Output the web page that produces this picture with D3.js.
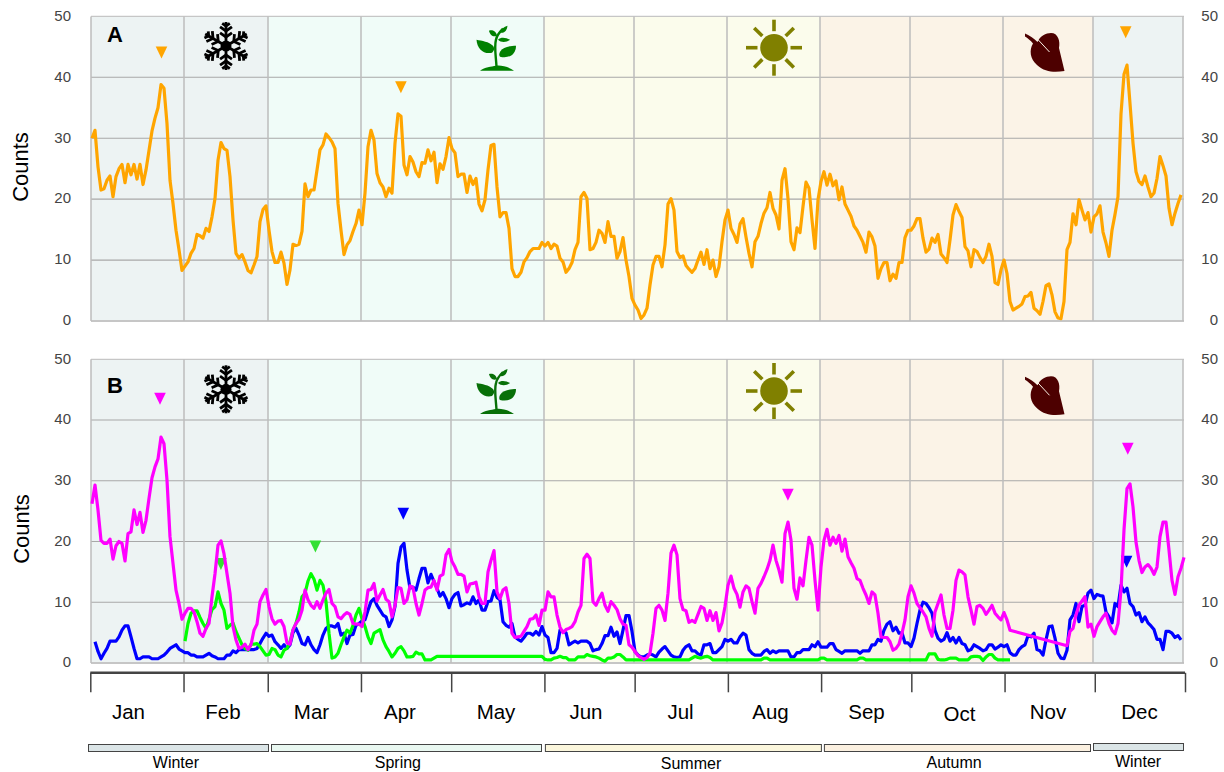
<!DOCTYPE html>
<html><head><meta charset="utf-8">
<script src="https://cdn.jsdelivr.net/npm/d3@7/dist/d3.min.js"></script>
<style>html,body{margin:0;padding:0;background:#fff}svg{display:block}text{font-family:"Liberation Sans",Arial,sans-serif}</style>
</head><body><svg id="c" width="1224" height="772"></svg>
<script>
const months=["Jan","Feb","Mar","Apr","May","Jun","Jul","Aug","Sep","Oct","Nov","Dec"];
const monthStarts=[0,31,59,90,120,151,181,212,243,273,304,334,364];
const monthLabelDays=[12.5,44,73.5,103,135,165,196.5,226.5,258.5,289.5,319,349.5];
const monthLabelDy=[0,0,0,0,0,0,0,0,0,2,0,0];
const yTicks=[0,10,20,30,40,50];
const seasonNames=["Winter","Spring","Summer","Autumn","Winter"];
const seasonStarts=[0,59,151,243,334];
const seasonEnds=[59,151,243,334,364];
const seasonColors=["#edf3f3","#f0fcf8","#fbfcec","#fbf3e7","#edf3f3"];
const seasonBarColors=["#dbe5e7","#e9f8f1","#fbf6dc","#fbf0e0","#dbe5e7"];
const seasonBarStart=[-1,60,151.3,244.3,334];
const seasonBarEnd=[59,150,243.3,333,364];
const seasonLabelDays=[28.3,102.3,200,287.7,349];
const seasonLabelDy=[0,0,1,0,-1];

const seriesA=[30,31.3,25.3,21.5,21.7,23.1,23.8,20.4,23.7,25,25.7,22.7,25.7,24,25.7,23.3,25.7,22.4,24.8,28,31.2,33.3,35,38.8,38.2,32.4,23.1,19.3,14.9,11.7,8.3,9,9.7,11.1,11.9,14.2,14,13.6,15.2,14.7,17.1,20.1,26.4,29.3,28.3,28,23.7,16.6,11.1,10.3,10.9,9.7,8.3,7.9,9.2,10.6,16.3,18.3,18.9,14.9,11.4,9.6,9.6,11.3,9.5,6,8.4,12.6,12.4,12.6,14.7,22.5,20.4,21.5,21.5,24.8,28.1,28.9,30.7,30.1,29.4,28.3,19.3,14.9,10.9,12.5,13.2,14.7,16,18.2,15.8,21,28.6,31.3,29.7,24.2,22.7,22,20.4,21.8,21,29.2,34,33.6,25.6,24,27,26.1,24.5,23.7,
26,25.9,28.1,26.3,27.7,22.7,25.8,24.9,27,30.1,28.3,27.6,23.7,24.1,24.1,21.1,23.8,22.4,23.4,19.2,18.1,19.9,24.8,28.8,29,22,17.1,17.8,17.8,15.2,8.6,7.3,7.3,8,9.7,10.4,11.4,11.9,11.9,11.9,12.9,12.3,12.9,11.9,12.6,12.3,10.3,9.7,8,8.6,9.6,11.7,12.9,20.4,21.1,20.1,11.7,11.9,12.9,14.9,14.4,12.9,16.3,13.9,13.9,10.3,11.4,13.7,10,7.3,3.7,2.6,1.8,0.4,1,2.1,5.9,9.2,10.6,10.6,8.9,12.5,19.2,20.1,18.2,11.4,10.4,10.7,9.1,8.5,8,8.6,10,11.3,9.3,11.7,8.6,10,7.3,8.9,13,16.6,18.2,15.2,14.2,12.9,15.9,16.8,13.8,11.1,8.9,13,13.9,16,17.7,18.6,21.1,18.5,17.4,15.1,23.1,25,20.1,13,11.7,15.3,14.5,18.8,22.8,21.8,16.6,11.9,19.9,22.9,24.5,22.3,
24.1,22.2,23,19.9,22,19.2,18.2,17.2,15.6,14.9,13.9,12.9,11.3,14.6,13.8,12.3,7,8.6,9.6,9.6,6.6,7.7,7,9.6,9.6,13.7,14.9,14.9,15.6,16.8,16.8,13.6,11.3,11.8,13.6,12.9,14.2,11,10.4,9.6,13.3,17.4,19.1,18,17,12.2,11.5,8.9,11.7,11.4,10.4,9.6,10.6,12.6,10.6,6.3,6,8.4,10,7.8,3.2,1.8,2.1,2.4,2.8,4,4.1,4.7,2.1,1.7,1.1,3.2,5.8,6.1,4.3,1.5,0.5,0.4,3.2,11.7,12.9,17.6,15.8,19.9,18.2,16.6,17.8,14.6,17.1,17.6,18.9,14.6,12.8,10.6,14.9,17.5,20.4,34,40.5,42,35.7,29.2,24.5,22.9,22.4,23.8,22,20.4,21,23.4,27,25.5,23.8,18.5,15.8,17.7,19.3,20.7];

const seriesMagenta=[26.2,29.3,25.2,20.2,19.7,19.7,20.4,17.1,19.3,20,19.7,16.8,21.3,21.6,25.2,22.8,24.8,21.5,23.5,27.1,30.5,32.3,33.6,37.2,36.1,30.1,20.8,16.4,12,9.8,7.2,8.2,9,9,8.4,6.8,4.9,4.4,5.7,6.5,10.9,14.7,19.4,20.1,18,14.7,11.5,6,3.8,2.4,2.6,3.1,2.2,3,5.4,6.4,10.1,11.2,12.1,9.3,7.3,6.4,6.9,7,6,3.3,3.1,5.5,6.5,7.2,8.7,12,10.4,9.5,9,10.1,9,10.4,11.5,12.1,9.8,9.3,7.6,7.3,7.9,8.3,8,6.5,6.4,6.4,6,8.4,12,12.1,13.1,10.2,11.2,12.1,10.5,10.1,7.6,9.5,12.4,12.3,9.8,10.4,12.7,12.4,9.8,7.9,
9.8,12,12.4,12.5,13.6,12,14.3,14.6,17.8,18.7,16.7,15.8,14.6,14.6,14.3,11.7,13,13.1,13.3,10.9,9.8,9.8,15,16.9,18.5,11.7,10.6,12,12.4,9.8,4.9,4.2,4.3,4.4,5.2,6,7.2,7.3,7.9,6.2,8.7,8.7,11.7,10.9,10.9,7.9,5.9,5,5.5,5.7,6,6.8,8.4,9.5,17.2,17.9,17.2,10.1,9.5,10.6,11.5,9.5,8.5,10.1,9.5,8.8,7.3,6.4,6.2,3,2.6,1.9,1.2,0.9,0.6,0.9,1.6,4.9,9,9.5,8.7,7,11.5,18.1,19.4,17.8,10.6,8.8,8.6,6.7,7,6.7,8,9.3,9,7,8.6,7,8.3,5.3,6.6,9.3,12.8,14.3,12.3,11.3,9.2,11.7,12.7,12.3,10.1,8.2,12.3,13.1,14.2,15.4,16.9,19.4,16.9,15.3,13.3,21.3,23.2,20.2,12.3,10.5,14,12.7,16.9,20.7,19.4,13.6,8.7,15.8,20.2,22,
19.4,20.7,19.7,21,18.4,20.4,17.5,16.5,15.6,13.9,13.6,12.3,11.2,9.8,11.7,11.2,8.2,4.3,4.2,4.2,3.5,2.1,2.4,3.1,4.9,7.1,10.9,12.7,11.5,9.8,9.1,8.4,7.6,5.7,4.4,8.4,9.8,11.2,7.9,5.7,5.7,8.7,13.6,15.3,15,14.5,10.9,8.7,6.4,9.3,9.5,9,8,8.7,9.5,8.2,7.6,7.1,8.3,7.1,5.4,
null,null,null,null,null,null,null,null,null,null,null,null,null,null,null,null,null,null,
2.85,5.2,5.7,7.9,9.5,10.2,10.9,5.9,6.4,4.4,6,6.8,7.6,8.2,6.5,5.4,4.8,6.5,12,21.9,28.7,29.5,25.7,19.9,16.9,14.9,15.8,16.2,15.6,14.6,15.8,20.8,23.2,23.2,18.6,13.6,11.3,14.2,15.6,17.4];

const seriesBlue=[null,3.5,1.9,0.7,1.6,2.4,3.6,3.6,3.6,4.3,5.4,6.1,6.1,4.3,2.4,0.7,0.7,1,1,1,0.7,0.7,0.7,1,1.3,1.8,2.4,2.7,3,2.3,2,1.7,1.7,1.3,1.3,1,1,1,1.3,1.6,1.2,1,0.7,0.7,0.7,1.3,1.3,2,1.7,2.2,2.2,2.2,2.2,2.2,2.2,2.4,3.2,4.1,4.9,4.4,4.6,3.5,3,2.4,3,2.4,3,5,5.7,4.6,3.2,3,4.2,3,2.2,1.7,3,4.6,5.7,6.1,6.1,5.9,6.5,4.6,4.9,3.2,4.6,4.7,6.2,6.5,6.9,7.1,8.7,10.1,10.6,9.5,8.7,7.9,7.6,6,7.1,9.3,16.4,19.1,19.7,15.3,12.3,12.5,12,13.9,
15.6,15.6,13.2,14.6,13.4,12.3,11,11.6,10.6,9.1,10.6,11.3,11.6,9.4,9.6,9.9,9.7,10.9,9.8,10.4,8.7,8.7,10.1,10.2,11.9,10.8,10.4,6.8,6.2,5.9,6.5,4.3,3.9,3.6,4.2,4.9,4.9,4.6,5.2,4.6,6,4.6,4.2,1.7,1.7,2.4,5.4,5.2,5,3,3.3,3.6,3.3,3.6,3.6,3.6,3.2,2,2.2,2.3,3.2,4.5,4.5,5.9,4.4,5.1,3.2,5.4,7.8,7.8,5.2,1.9,1.3,1,1,1.3,1.5,1.3,1,1.8,2.3,2.7,2,1.3,1,0.9,1,2.1,2.7,3,2,2,1.5,1.3,3,3,3.2,1.7,1.7,2.2,2.7,3.9,3.6,3.9,3.3,3.3,4.3,4.9,4.6,2.2,1.6,1.3,1.3,1.3,1.9,2.2,1.6,2,1.7,2,2,2,2,1,1,1.7,1.7,2.2,2.2,2.2,3,2.7,3.5,2.6,2.6,2.6,
3.2,3.2,2.2,1.9,1.6,2,2,2,2,2,1.6,2,2,2,3,3,3.9,3.6,5.4,6.4,6.8,5.3,5.9,4.9,5,3.3,3.3,2.7,4.1,6.5,8.7,10,9.8,9.1,8.2,5.4,4.1,3.6,3.9,5,3.6,4.2,3.3,4.2,3.2,3,2,2.2,3,2.7,2.4,2,2.2,3,3,2.3,2.6,3,2.7,3,1.7,1.3,1.3,2.2,2.7,3,4.5,4.3,4.9,2.2,2,1.3,3.8,6,6.1,4.1,1.6,0.8,0.7,2.1,7.1,7.9,9.8,6.8,9.3,9.5,11.5,12,10.6,11.3,11.1,11,8.4,7.6,6.6,9.8,9.3,12.8,11.7,12.3,9.8,9.3,7.9,8.3,6.8,7.6,6.6,6.1,5.5,3.9,3.9,2.2,5.2,5.2,4.9,4.2,4.5,3.8];

const seriesGreen=[null,null,null,null,null,null,null,null,null,null,null,null,null,null,null,null,null,null,null,null,null,null,null,null,null,null,null,null,null,null,null,
3.6,6.5,8.2,8.6,8.6,7.5,6.5,5.7,7.2,8.8,9.3,11.7,9.8,8.7,5.7,6.2,6.6,5.2,4.1,3,2.4,2.1,3.1,3.1,3.2,2.7,2,1.3,1.4,2.4,2.2,1.3,1,2.1,2.4,3.5,5.4,6.5,8.4,10.9,11.5,13.5,14.7,13.8,12,13.6,12.8,10.1,4.9,0.8,1,1.6,3,4.3,5.4,4.9,6.2,7.9,9,7.3,6,4.3,3.2,4.9,5.2,5.5,3.8,2.7,1.9,1,1.6,2.4,2.7,2,1,1,1.1,1.8,1.5,
1.5,0.5,0.5,0.5,0.8,1.1,1.1,1.1,1.1,1.1,1.1,1.1,1.1,1.1,1.1,1.1,1.1,1.1,1.1,1.1,1.1,1.1,1.1,1.1,1.1,1.1,1.1,1.1,1.1,1.1,1.1,1.1,1.1,1.1,1.1,1.1,1.1,1.1,1.1,1.1,1.1,0.6,0.5,0.5,0.8,0.9,1.1,0.9,0.9,0.5,0.5,0.5,1,1,1,1.4,1.2,1.1,1,0.8,0.5,0.3,0.8,0.8,1,1.4,1.4,1,0.5,
0.5,0.5,0.5,0.5,0.5,0.5,0.5,0.5,0.5,0.5,0.5,0.5,0.5,0.5,0.5,0.5,0.5,0.5,0.5,0.5,0.5,0.8,1.1,0.9,0.8,1,1.1,0.9,0.5,0.5,0.5,0.5,0.5,0.5,0.5,0.5,0.5,0.5,0.5,0.5,0.5,0.5,0.5,0.5,0.5,0.8,0.8,0.5,0.5,0.5,0.5,0.5,0.5,0.5,0.5,0.5,0.5,0.5,0.5,0.5,0.5,0.5,0.5,0.5,0.8,0.8,0.5,0.5,0.5,0.5,0.5,0.5,0.5,0.5,0.5,0.5,0.5,0.8,0.8,0.5,0.5,0.5,0.5,0.5,0.5,0.5,0.5,0.5,0.5,0.5,0.5,0.5,0.5,0.5,0.5,0.5,0.5,0.5,0.5,0.5,1.5,1.5,1.5,0.6,0.5,0.5,0.6,0.8,0.8,0.8,0.5,0.5,0.5,0.5,1,1.1,1.1,1,0.4,1,1.4,1.4,0.8,0.5,0.5,0.5,0.5,0.5];

const markerDaysA=[23.5,103.3,344.9];
const markerValuesA=[43.1,37.4,46.4];
const markerColorsA=["#ffa500","#ffa500","#ffa500"];
const markerDaysB=[43.3,74.8,104.1,345.2,23,232.3,345.6];
const markerValuesB=[15.3,18.2,23.6,15.7,42.5,26.7,34.3];
const markerColorsB=["#33e033","#33e033","#0000ff","#0000ff","#ff00ff","#ff00ff","#ff00ff"];

const svg=d3.select("#c");
const x=d3.scaleLinear().domain([0,364]).range([91,1183]);
const xAxisScale=d3.scaleLinear().domain([0,364]).range([90.3,1185]);
const dayOffset=1/3;

function icons(g,dy,bg){
  const sn=g.append("g").attr("transform",`translate(226,${46+dy})`).attr("stroke","#000").attr("fill","none");
  d3.range(6).forEach(k=>{
    const a=sn.append("g").attr("transform",`rotate(${k*60})`);
    a.append("line").attr("x1",0).attr("y1",0).attr("x2",0).attr("y2",-24).attr("stroke-width",2.8);
    [[-9,7],[-15,7],[-20,4.5]].forEach(([r,l])=>{
      a.append("path").attr("d",`M${-l*0.85},${r-l*0.6}L0,${r}L${l*0.85},${r-l*0.6}`).attr("stroke-width",2.8);
    });
  });
  sn.append("circle").attr("r",5.5).attr("fill","#000").attr("stroke","none");
  const pc=dy?"#087008":"#008000";
  const pl=g.append("g").attr("transform",`translate(497,${70.7+dy})`).attr("fill",pc);
  pl.append("path").attr("d","M-17,0C-12,-4 -6,-4 -1,-5C3,-6 12,-4 17,0Z");
  pl.append("path").attr("d","M-0.5,-4C-1,-14 -3,-24 -1,-31C0,-36 3,-39 6,-42").attr("fill","none").attr("stroke",pc).attr("stroke-width",2.4);
  pl.append("path").attr("d","M-20.5,-31C-15,-30 -8,-29 -4,-25C-2,-22 -3,-20 -5,-18C-13,-16 -20,-22 -20.5,-31Z");
  pl.append("path").attr("d","M19,-25C14,-25 6,-24 3,-19C2,-17 2,-15 3,-14C12,-12 19,-16 19,-25Z");
  pl.append("path").attr("d","M-8,-40C-5,-41 -1,-40 0,-35C-4,-33 -7,-36 -8,-40Z");
  pl.append("path").attr("d","M1,-31C4,-34 9,-33 13,-31C9,-28 4,-28 1,-31Z");
  pl.append("path").attr("d","M3,-38C4,-42 7,-44 10.5,-45C10,-41 8,-37 3,-38Z");
  const su=g.append("g").attr("transform",`translate(774,${47.7+dy})`);
  su.append("circle").attr("r",13.8).attr("fill","#808000");
  d3.range(8).forEach(k=>{
    su.append("line").attr("x1",0).attr("y1",-16.5).attr("x2",0).attr("y2",-28).attr("stroke","#808000").attr("stroke-width",3.6).attr("transform",`rotate(${k*45})`);
  });
  const lf=g.append("g").attr("transform",`translate(0,${dy})`);
  lf.append("path").attr("fill","#4d0000").attr("d","M1025,33.5C1030,35.5 1034,38.5 1037.5,42C1040,36 1046,33 1051,33C1058,33 1060.5,41 1059,48L1064.5,71C1055,72.5 1045,72.5 1037,65C1030,59 1029,50 1033,43.5C1030.5,40.5 1027.5,38 1025,36.5Z");
  lf.append("line").attr("x1",1036.5).attr("y1",38).attr("x2",1049.5).attr("y2",52).attr("stroke",bg).attr("stroke-width",1);
}

function panel(cfg){
  const y=d3.scaleLinear().domain([0,50]).range([cfg.y0,cfg.y50]);
  const g=svg.append("g");
  g.selectAll("rect.s").data(seasonColors).join("rect").attr("class","s")
    .attr("x",(d,i)=>x(seasonStarts[i])).attr("y",cfg.y50)
    .attr("width",(d,i)=>x(seasonEnds[i])-x(seasonStarts[i])).attr("height",cfg.y0-cfg.y50).attr("fill",d=>d);
  g.selectAll("line.h").data(yTicks).join("line").attr("class","h")
    .attr("x1",x(0)).attr("x2",x(364)+1).attr("y1",d=>y(d)).attr("y2",d=>y(d))
    .attr("stroke",d=>(d===0||d===50)?"#c6c6c6":"#a8a8a8").attr("stroke-width",d=>d===0?2:(d===50?1.3:1.1));
  g.selectAll("line.v").data(monthStarts).join("line").attr("class","v")
    .attr("x1",d=>x(d)).attr("x2",d=>x(d)).attr("y1",cfg.y50).attr("y2",cfg.y0)
    .attr("stroke","#bdbdbd").attr("stroke-width",1.5);
  const la=d3.axisLeft(y).tickValues(yTicks).tickSize(0).tickPadding(0);
  const lg=g.append("g").attr("transform","translate(71,-1)").call(la);
  lg.select(".domain").remove();
  const ra=d3.axisLeft(y).tickValues(yTicks).tickSize(0).tickPadding(0);
  const rg=g.append("g").attr("transform","translate(1218,-1)").call(ra);
  rg.select(".domain").remove();
  g.selectAll(".tick text").attr("fill","#444").style("font-size","15px").style("font-family",'"Liberation Sans",Arial,sans-serif');
  g.append("text").attr("transform",`translate(${cfg.labelX},${cfg.labelY}) rotate(-90)`).attr("text-anchor","middle").attr("font-size",22).attr("fill","#000").text("Counts");
  g.append("text").attr("x",107).attr("y",cfg.letterY).attr("font-size",22).attr("font-weight","bold").text(cfg.letter);
  icons(g,cfg.iconDy,"#fbf3e7");
  g.selectAll("path.m").data(cfg.mDays).join("path").attr("class","m")
    .attr("d",(d,i)=>{const p=d3.path(),px=x(d),py=y(cfg.mVals[i]);p.moveTo(px-5.8,py-12);p.lineTo(px+5.8,py-12);p.lineTo(px,py);p.closePath();return p.toString();})
    .attr("fill",(d,i)=>cfg.mCols[i]);
  const line=d3.line().x(d=>x(d[0]+dayOffset)).y(d=>y(d[1]));
  cfg.series.forEach(s=>{
    const pts=s.vals.map((v,i)=>[i,v]).filter(d=>d[1]!==null);
    g.append("path").attr("d",line(pts)).attr("fill","none").attr("stroke",s.color).attr("stroke-width",3.2).attr("stroke-linejoin","round");
  });
}
panel({y0:321,y50:16.4,labelX:28,labelY:167,letter:"A",letterY:42,iconDy:0,mDays:markerDaysA,mVals:markerValuesA,mCols:markerColorsA,series:[{vals:seriesA,color:"#ffa500"}]});
panel({y0:663,y50:359.3,labelX:28.5,labelY:529,letter:"B",letterY:392.5,iconDy:343.3,mDays:markerDaysB,mVals:markerValuesB,mCols:markerColorsB,series:[{vals:seriesBlue,color:"#0000ff"},{vals:seriesGreen,color:"#00ff00"},{vals:seriesMagenta,color:"#ff00ff"}]});

const xa=d3.axisBottom(xAxisScale).tickValues(monthStarts).tickSize(19.5).tickFormat("");
const xg=svg.append("g").attr("transform","translate(0,672.8)").call(xa);
xg.select(".domain").attr("stroke","#444").attr("stroke-width",2.6).attr("d",`M${xAxisScale(0)},0H${xAxisScale(364)}`);
xg.selectAll(".tick line").attr("stroke","#444").attr("stroke-width",1.5);
svg.selectAll("text.month").data(months).join("text").attr("class","month")
  .attr("x",(d,i)=>x(monthLabelDays[i])).attr("y",(d,i)=>719+monthLabelDy[i])
  .attr("text-anchor","middle").attr("font-size",20.5).attr("fill","#000").text(d=>d);
svg.selectAll("rect.sb").data(seasonNames).join("rect").attr("class","sb")
  .attr("x",(d,i)=>x(seasonBarStart[i])+0.5).attr("y",(d,i)=>i===4?743.5:744.5)
  .attr("width",(d,i)=>x(seasonBarEnd[i])-x(seasonBarStart[i])).attr("height",7)
  .attr("fill",(d,i)=>seasonBarColors[i]).attr("stroke","#444").attr("stroke-width",1);
svg.selectAll("text.season").data(seasonNames).join("text").attr("class","season")
  .attr("x",(d,i)=>x(seasonLabelDays[i])).attr("y",(d,i)=>768+seasonLabelDy[i])
  .attr("text-anchor","middle").attr("font-size",16).attr("fill","#000").text(d=>d);
</script></body></html>
